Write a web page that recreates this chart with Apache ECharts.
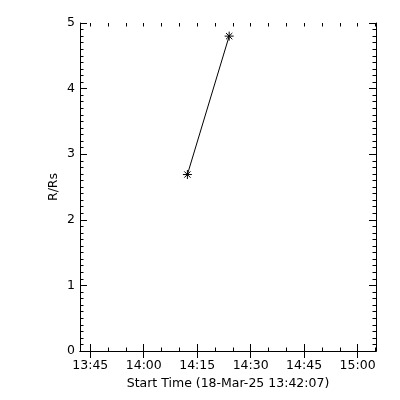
<!DOCTYPE html>
<html>
<head>
<meta charset="utf-8">
<script src="https://cdn.jsdelivr.net/npm/echarts@6/dist/echarts.min.js"></script>
<style>html,body{margin:0;padding:0;background:#fff;}#c{width:400px;height:400px;}</style>
</head>
<body>
<div id="c"></div>
<script>
// Time values are minutes since midnight on 18-Mar-25
var startTimes = [852.25, 863.97];          // 14:12:15, 14:23:58
var heights = [2.69, 4.80];                  // R/Rs
var xMin = 822.1167;                         // 13:42:07
var xMax = 905.17;
var majorTicks = [825, 840, 855, 870, 885, 900];
var tickLabels = ['13:45', '14:00', '14:15', '14:30', '14:45', '15:00'];
var minorTicks = [825, 830, 835, 840, 845, 850, 855, 860, 865, 870, 875, 880, 885, 890, 895, 900, 905];
var xTitle = 'Start Time (18-Mar-25 13:42:07)';
var yTitle = 'R/Rs';

var FONT = 'DejaVu Sans';
var black = '#000';
var chart = echarts.init(document.getElementById('c'), null, {renderer: 'canvas'});

function xAx(pos, ticks, len, showLine, withLabels) {
  var a = {
    type: 'value', position: pos, min: xMin, max: xMax,
    axisLine: {show: showLine, lineStyle: {color: black, width: 1}},
    axisTick: {show: true, inside: true, length: len, customValues: ticks, lineStyle: {color: black, width: 1}},
    axisLabel: {show: false},
    splitLine: {show: false}
  };
  if (withLabels) {
    a.axisLabel = {
      show: true, customValues: majorTicks, color: black, fontFamily: FONT, fontSize: 12.5, margin: 8,
      formatter: function (v) { var i = majorTicks.indexOf(Math.round(v)); return i >= 0 ? tickLabels[i] : ''; }
    };
    a.name = xTitle;
    a.nameLocation = 'middle';
    a.nameGap = 24;
    a.nameTextStyle = {color: black, fontFamily: FONT, fontSize: 12.5};
  }
  return a;
}
function yAx(pos, withLabels) {
  var a = {
    type: 'value', position: pos, min: 0, max: 5, interval: 1,
    axisLine: {show: true, lineStyle: {color: black, width: 1}},
    axisTick: {show: true, inside: true, length: 7, lineStyle: {color: black, width: 1}},
    minorTick: {show: true, splitNumber: 10, length: 3.5, lineStyle: {color: black, width: 1}},
    axisLabel: {show: withLabels, color: black, fontFamily: FONT, fontSize: 12.5, margin: 5},
    splitLine: {show: false}
  };
  if (withLabels) {
    a.name = yTitle;
    a.nameLocation = 'middle';
    a.nameGap = 20;
    a.nameMoveOverlap = false;
    a.nameTextStyle = {color: black, fontFamily: FONT, fontSize: 12.5};
  }
  return a;
}

var star = 'path://M5 0 L5 10 M0 5 L10 5 M1.5 1.5 L8.5 8.5 M8.5 1.5 L1.5 8.5';

chart.setOption({
  animation: false,
  backgroundColor: '#fff',
  grid: {left: 80, right: 24, top: 23, bottom: 49},
  xAxis: [
    xAx('bottom', majorTicks, 7, true, true),
    xAx('top', majorTicks, 7, true, false),
    xAx('bottom', minorTicks, 3.5, false, false),
    xAx('top', minorTicks, 3.5, false, false)
  ],
  yAxis: [yAx('left', true), yAx('right', false)],
  series: [{
    type: 'line',
    xAxisIndex: 0, yAxisIndex: 0,
    data: startTimes.map(function (t, i) { return [t, heights[i]]; }),
    symbol: star, symbolSize: 9,
    itemStyle: {color: 'rgba(0,0,0,0)', borderColor: black, borderWidth: 1},
    lineStyle: {color: black, width: 1},
    emphasis: {disabled: true}
  }]
});
</script>
</body>
</html>
